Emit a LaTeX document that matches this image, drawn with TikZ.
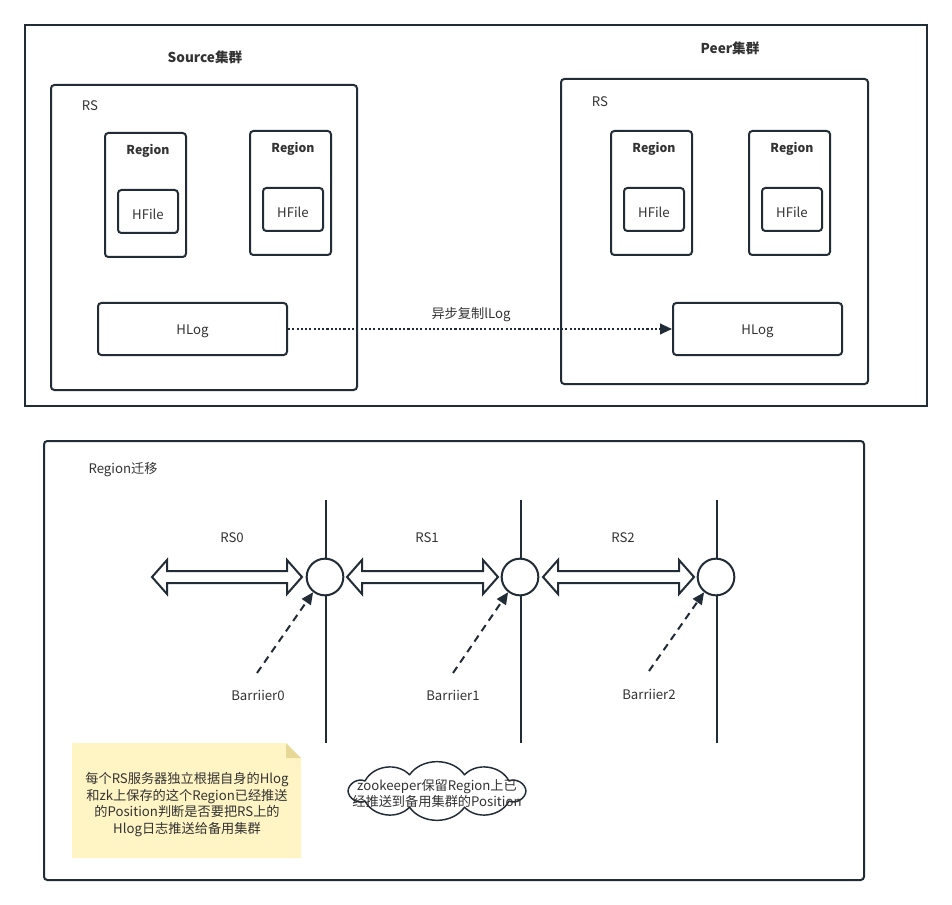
\documentclass[tikz,border=0pt]{standalone}
\usepackage{fontspec}
\setmainfont{Noto Sans CJK SC}
\usetikzlibrary{arrows.meta,fit}
\definecolor{ln}{HTML}{222C36}
\definecolor{tx}{HTML}{333333}
\definecolor{notebg}{HTML}{FFF4C3}
\definecolor{notefold}{HTML}{E8D898}
\begin{document}
\begin{tikzpicture}[x=0.75pt,y=-0.75pt,
  frame/.style={draw=ln,line width=1.5pt,inner sep=0pt},
  rbox/.style={draw=ln,line width=1.5pt,inner sep=0pt,rounded corners=2.5pt},
  lbl/.style={text=tx,font=\fontsize{9.9}{11}\selectfont,inner sep=0pt,yshift=-2pt},
  blbl/.style={text=tx,font=\fontsize{9.2}{11}\selectfont\bfseries,inner sep=0pt,yshift=-1.5pt},
  tlbl/.style={text=tx,font=\fontsize{10.2}{12}\selectfont\bfseries,inner sep=0pt,yshift=-1.5pt},
  vline/.style={draw=ln,line width=1.5pt},
  dbl/.style={draw=ln,line width=1.5pt,fill=white,line join=miter},
  dasharrow/.style={draw=ln,line width=1.5pt,dash pattern=on 5.5pt off 4pt,-{Triangle[length=9pt,width=8pt]}},
  cloudline/.style={draw=ln,line width=1.1pt,fill=white,line join=round},
]
\useasboundingbox (0,0) rectangle (952,905);
\fill[white] (0,0) rectangle (952,905);

% ---------- top frame ----------
\node[frame,fit={(25,25) (927,406)}] (top) {};
\node[tlbl] (srctitle) at (205,55) {Source集群};
\node[tlbl] (peertitle) at (730,46) {Peer集群};

% source RS
\node[rbox,fit={(51,85) (357,390)}] (srs) {};
\node[lbl] (srslbl) at (90,103) {RS};
\node[rbox,fit={(105,133) (186,257)}] (sreg1) {};
\node[blbl] (sreg1l) at (148,149) {Region};
\node[rbox,fit={(118,190) (178,233)}] (shf1) {};
\node[lbl] at (shf1) {HFile};
\node[rbox,fit={(250,131) (331,255)}] (sreg2) {};
\node[blbl] (sreg2l) at (293,147) {Region};
\node[rbox,fit={(263,188) (323,231)}] (shf2) {};
\node[lbl] at (shf2) {HFile};
\node[rbox,fit={(98,303) (287,355)}] (shlog) {};
\node[lbl] at (shlog) {HLog};

% peer RS
\node[rbox,fit={(561,79) (868,384)}] (prs) {};
\node[lbl] (prslbl) at (600,99) {RS};
\node[rbox,fit={(611,131) (692,255)}] (preg1) {};
\node[blbl] (preg1l) at (654,147) {Region};
\node[rbox,fit={(624,188) (684,231)}] (phf1) {};
\node[lbl] at (phf1) {HFile};
\node[rbox,fit={(749,131) (830,255)}] (preg2) {};
\node[blbl] (preg2l) at (792,147) {Region};
\node[rbox,fit={(762,188) (822,231)}] (phf2) {};
\node[lbl] at (phf2) {HFile};
\node[rbox,fit={(673,303) (842,355)}] (phlog) {};
\node[lbl] at (phlog) {HLog};

\draw[draw=ln,line width=1.5pt,dash pattern=on 1.6pt off 1.6pt,-{Triangle[length=9pt,width=8pt]}] (shlog.east) -- (phlog.west);
\node[lbl] (copylbl) at (471,312) {异步复制lLog};

% ---------- bottom frame ----------
\node[rbox,fit={(44,441) (864,880)}] (bot) {};
\node[lbl] (migr) at (123,467) {Region迁移};

% vertical lines and circles
\foreach \i/\x in {0/326,1/521,2/717}{
  \coordinate (vt\i) at (\x,500);
  \coordinate (vb\i) at (\x,743);
  \draw[vline] (vt\i) -- (vb\i);
  \node[circle,draw=ln,line width=1.5pt,fill=white,minimum size=27.5pt,inner sep=0pt] (c\i) at (\x-1,577) {};
}

% double arrows
\foreach \i/\xa/\xb in {0/152/302,1/347/498,2/543/694}{
  \draw[dbl] (\xa,577) -- (\xa+15,560) -- (\xa+15,571) -- (\xb-15,571) -- (\xb-15,560)
     -- (\xb,577) -- (\xb-15,594) -- (\xb-15,583) -- (\xa+15,583) -- (\xa+15,594) -- cycle;
}
\node[lbl] (rs0) at (232,535) {RS0};
\node[lbl] (rs1) at (427,535) {RS1};
\node[lbl] (rs2) at (623,535) {RS2};

% barriers
\coordinate (b0s) at (257,673);
\coordinate (b1s) at (453,673);
\coordinate (b2s) at (649,671);
\draw[dasharrow] (b0s) -- (c0.232);
\draw[dasharrow] (b1s) -- (c1.232);
\draw[dasharrow] (b2s) -- (c2.232);
\node[lbl] (bar0) at (258,693) {Barriier0};
\node[lbl] (bar1) at (453,693) {Barriier1};
\node[lbl] (bar2) at (649,692) {Barriier2};

% note
\fill[notebg] (72,743) -- (286,743) -- (301,758) -- (301,858) -- (72,858) -- cycle;
\fill[notefold] (286,743) -- (301,758) -- (286,758) -- cycle;
\node[lbl,align=center,font=\fontsize{9.9}{12.4}\selectfont] (note) at (187,802)
  {每个RS服务器独立根据自身的Hlog\\和zk上保存的这个Region已经推送\\的Position判断是否要把RS上的\\Hlog日志推送给备用集群};

% cloud
\coordinate (cloudc) at (437,791);
\draw[cloudline] (526,791) \foreach \a in {36,72,...,360} { to[bend left=55] ({437+89*cos(\a)},{791+17*sin(\a)}) } -- cycle;
\node[lbl,align=center,font=\fontsize{9.9}{12}\selectfont] (cloudtxt) at (cloudc)
  {zookeeper保留Region上已\\经推送到备用集群的Position};
\end{tikzpicture}
\end{document}
